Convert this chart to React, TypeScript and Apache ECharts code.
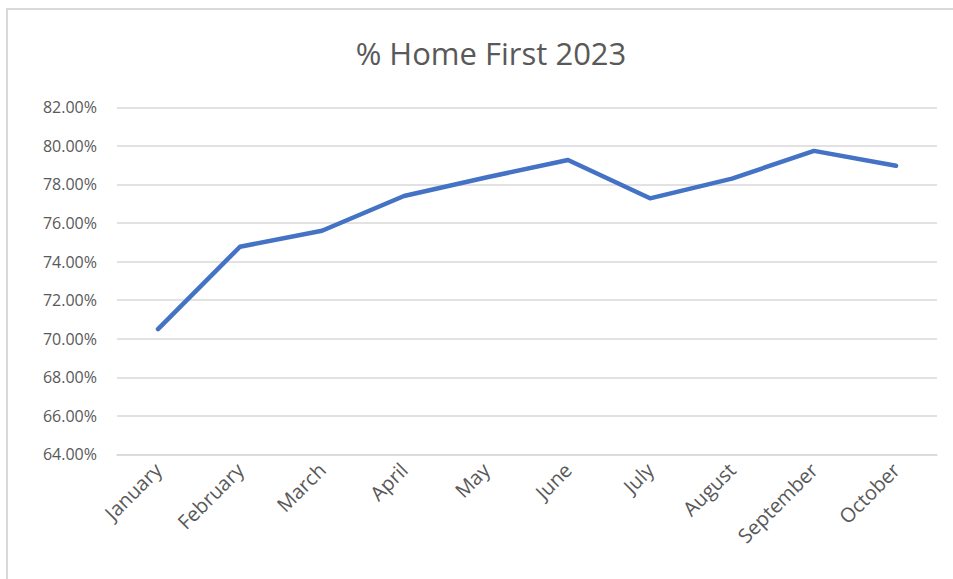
import React, { useEffect, useRef } from "react";
import * as echarts from "echarts";

const months = ["January", "February", "March", "April", "May", "June", "July", "August", "September", "October"];
const homeFirst = [70.5, 74.77, 75.6, 77.4, 78.36, 79.27, 77.28, 78.3, 79.74, 78.97];
const yMin = 64;
const yMax = 82;
const yStep = 2;

export default function App() {
  const ref = useRef<HTMLDivElement>(null);
  useEffect(() => {
    if (!ref.current) return;
    const chart = echarts.init(ref.current, undefined, { renderer: "svg" });
    chart.setOption({
      animation: false,
      backgroundColor: "#ffffff",
      title: {
        text: "% Home First 2023",
        left: 486,
        top: 32,
        textAlign: "center",
        textStyle: { fontFamily: "Open Sans", fontSize: 31, fontWeight: "normal", color: "#595959" },
      },
      graphic: [
        { type: "line", shape: { x1: 6, y1: 9, x2: 953, y2: 9 }, style: { stroke: "#d9d9d9", lineWidth: 2 } },
        { type: "line", shape: { x1: 7, y1: 9, x2: 7, y2: 579 }, style: { stroke: "#d9d9d9", lineWidth: 2 } },
      ],
      grid: { left: 117, right: 16, top: 107.3, bottom: 124.6 },
      xAxis: {
        type: "category",
        data: months,
        boundaryGap: true,
        axisLine: { show: true, lineStyle: { color: "#d9d9d9", width: 1.5 } },
        axisTick: { show: false },
        axisLabel: {
          rotate: 45,
          interval: 0,
          margin: 12,
          color: "#595959",
          fontFamily: "Open Sans",
          fontSize: 20,
        },
      },
      yAxis: {
        type: "value",
        min: yMin,
        max: yMax,
        interval: yStep,
        axisLine: { show: false },
        axisTick: { show: false },
        splitLine: { lineStyle: { color: "#d9d9d9", width: 1.5 } },
        axisLabel: {
          margin: 20,
          color: "#595959",
          fontFamily: "Open Sans",
          fontSize: 16,
          formatter: (v: number) => v.toFixed(2) + "%",
        },
      },
      series: [
        {
          type: "line",
          data: homeFirst,
          symbol: "none",
          lineStyle: { color: "#4472C4", width: 4.5, cap: "round", join: "round" },
        },
      ],
    });
    return () => chart.dispose();
  }, []);
  return <div ref={ref} style={{ position: "absolute", left: 0, top: 0, width: 953, height: 579 }} />;
}
